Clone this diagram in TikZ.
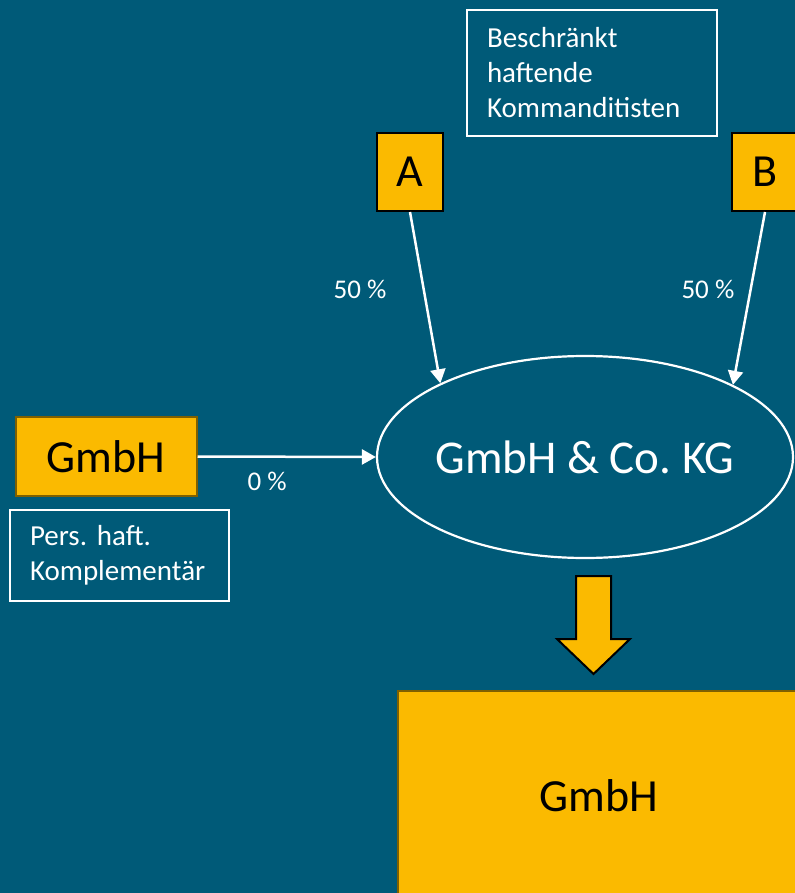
\documentclass[tikz,border=0pt]{standalone}
\usepackage{fontspec}
\setmainfont{Carlito}
\usetikzlibrary{shapes.geometric,positioning,arrows.meta}
\definecolor{petrol}{RGB}{0,90,120}
\definecolor{gold}{RGB}{251,186,0}
\definecolor{goldrim}{RGB}{127,96,0}

\begin{document}
\begin{tikzpicture}[x=0.5pt, y=-0.5pt, >={Triangle[length=7pt,width=7.5pt]},
        % Define styles
        owner/.style={rectangle, draw=black, line width=1pt, fill=gold,
        minimum width=33pt, minimum height=39pt, inner sep=0pt,
        font=\fontsize{23}{27}\selectfont},
        firm/.style={rectangle, draw=goldrim, line width=1pt, fill=gold,
        inner sep=0pt, font=\fontsize{23}{27}\selectfont},
        note/.style={rectangle, draw=white, line width=0.75pt, text=white,
        align=left, inner xsep=10pt, inner ysep=0pt,
        font=\fontsize{14.5}{17.5}\selectfont\frenchspacing},
        share/.style={text=white, inner sep=0pt, font=\fontsize{13.5}{16}\selectfont},
        link/.style={->, draw=white, line width=1.25pt}
        ]
        % Background
        \clip (0,0) rectangle (795,893);
        \fill[petrol] (0,0) rectangle (795,893);

        % Nodes
        \node[ellipse, draw=white, line width=1.1pt, minimum width=208pt,
        minimum height=101pt, inner sep=0pt,
        label={[text=white, font=\fontsize{23.5}{28}\selectfont]center:GmbH \& Co.\ KG}] (kg) at (585,457) {};
        \node[owner] (a) at (410,172) {A};
        \node[owner, right=143.5pt of a] (b) {B};
        \node[note, text width=105pt, minimum height=63pt] (kdt) at (592,73) {Beschränkt\\haftende\\Kommanditisten};
        \node[firm, minimum width=90.5pt, minimum height=39.5pt] (gmbh) at (106,456.5) {GmbH};
        \node[note, text width=89.5pt, minimum height=45.5pt] (kpl) at (119.5,555.5) {Pers. haft.\\Komplementär};
        \node[firm, minimum width=201pt, minimum height=104.5pt] (neu) at (599,795.5) {GmbH};

        % Arrows
        \draw[link] (gmbh.east) -- node[share, pos=0.39, below=7pt] {0 \%} (kg.west);
        \draw[link] (a.south) -- node[share, pos=0.45, left=18pt] {50 \%} (kg.153);
        \draw[link] (b.south) -- node[share, pos=0.45, left=7.5pt] {50 \%} (kg.26);

        % Block arrow
        \draw[fill=gold, draw=black, line width=1pt] (576,576) -- (611,576) -- (611,639)
        -- (630,639) -- (593.5,674) -- (557,639) -- (576,639) -- cycle;
    \end{tikzpicture}
\end{document}
